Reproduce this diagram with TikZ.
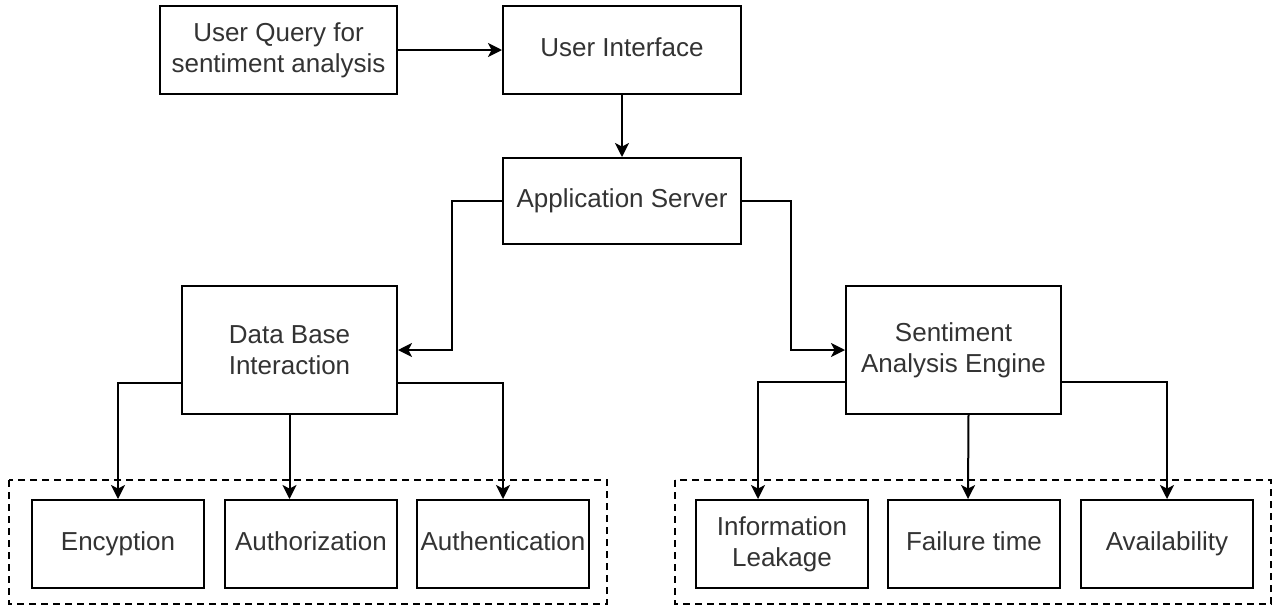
\documentclass[tikz,border=0pt]{standalone}
\usepackage{fontspec}
\setmainfont{Liberation Sans}
\usetikzlibrary{arrows.meta,calc}
\tikzset{
  box/.style={draw=black, line width=1pt, rectangle, minimum width=#1*0.5pt,
    align=center, text=black!80, font=\fontsize{13}{15.5}\selectfont, inner sep=0pt},
  box/.default=172,
  oneline/.style={text height=9.4pt, text depth=2.8pt},
  grp/.style={draw=black, line width=1pt, dash pattern=on 3.5pt off 2.5pt},
  arr/.style={draw=black, line width=1pt, -{Stealth[length=7pt,width=7pt,inset=1.8pt]}}
}
\begin{document}
\begin{tikzpicture}[x=0.5pt,y=-0.5pt]
\useasboundingbox (0,0) rectangle (1276,606);
% dashed groups behind the leaf boxes
\draw[grp] (9,480) rectangle (607,604);
\draw[grp] (675,480) rectangle (1271,604);
% top chain
\node[box=237, minimum height=44pt] (uq) at (278.5,50) {User Query for\\sentiment analysis};
\node[box=238, minimum height=44pt, oneline] (ui) at (622,50) {User Interface};
\node[box=238, minimum height=43pt, oneline] (as) at (622,201) {Application Server};
% second level
\node[box=215, minimum height=64pt] (db) at (289.5,350) {Data Base\\Interaction};
\node[box=215, minimum height=64pt] (se) at (953.5,350) {Sentiment\\Analysis Engine};
% leaves
\node[box, minimum height=44pt, oneline] (enc) at (118,544) {Encyption};
\node[box, minimum height=44pt, oneline] (authz) at (311,544) {Authorization};
\node[box, minimum height=44pt, oneline] (authn) at (503,544) {Authentication};
\node[box, minimum height=44pt] (info) at (782,544) {Information\\Leakage};
\node[box, minimum height=44pt, oneline] (fail) at (974,544) {Failure time};
\node[box, minimum height=44pt, oneline] (avail) at (1167,544) {Availability};
% connectors
\draw[arr] (uq.east) -- (ui.west);
\draw[arr] (ui.south) -- (as.north);
\draw[arr] (as.west) -| ($(db.east)+(54,0)$) -- (db.east);
\draw[arr] (as.east) -| ($(se.west)+(-54,0)$) -- (se.west);
\draw[arr] ($(db.west)+(0,33)$) -| (enc.north);
\draw[arr] (db.south) -- (db.south |- authz.north);
\draw[arr] ($(db.east)+(0,33)$) -| (authn.north);
\draw[arr] ($(se.west)+(0,32)$) -| ($(info.north)+(-24,0)$);
\draw[arr] ($(se.south)+(15,0)$) -- ($(fail.north)+(-6,0)$);
\draw[arr] ($(se.east)+(0,32)$) -| (avail.north);
\end{tikzpicture}
\end{document}
